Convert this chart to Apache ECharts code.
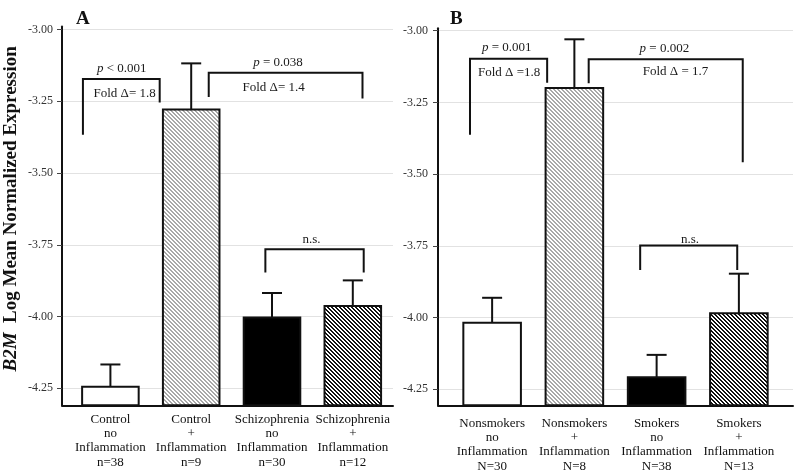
<!DOCTYPE html>
<html><head><meta charset="utf-8">
<script src="https://cdn.jsdelivr.net/npm/echarts@6/dist/echarts.min.js"></script>
<style>html,body{margin:0;padding:0;background:#fff}#c{width:800px;height:475px}</style>
</head><body><div id="c"></div>
<script>
// ---------- data ----------
const categoriesA = ['Control\nno\nInflammation\nn=38', 'Control\n+\nInflammation\nn=9', 'Schizophrenia\nno\nInflammation\nn=30', 'Schizophrenia\n+\nInflammation\nn=12'];
const meansA = [-4.245, -3.279, -4.003, -3.963];
const errA = [0.078, 0.161, 0.085, 0.089];

const categoriesB = ['Nonsmokers\nno\nInflammation\nN=30', 'Nonsmokers\n+\nInflammation\nN=8', 'Smokers\nno\nInflammation\nN=38', 'Smokers\n+\nInflammation\nN=13'];
const meansB = [-4.018, -3.200, -4.208, -3.985];
const errB = [0.087, 0.170, 0.078, 0.138];

const yTicks = [-4.25, -4.00, -3.75, -3.50, -3.25, -3.00];
const panelLabels = ['A', 'B'];
const yTitleItalic = 'B2M';
const yTitle = 'Log Mean Normalized Expression';

// significance brackets: [fromCat, toCat, topValue, leftEndValue, rightEndValue]
const bracketsA = [[-0.34, 0.61, -3.1725, -3.367, -3.254], [1.217, 3.12, -3.1505, -3.235, -3.240], [1.918, 3.135, -3.766, -3.847, -3.847]];
const bracketsB = [[-0.269, 0.669, -3.0976, -3.3625, -3.181], [1.174, 3.047, -3.0997, -3.1833, -3.4587], [1.80, 2.98, -3.749, -3.834, -3.834]];
// annotation texts: [cat, value, text]
const notesA = [[0.141, -3.135, '{i|p} < 0.001'], [0.176, -3.222, 'Fold \u0394= 1.8'], [2.075, -3.116, '{i|p} = 0.038'], [2.02, -3.203, 'Fold \u0394= 1.4'], [2.49, -3.733, 'n.s.']];
const notesB = [[0.178, -3.059, '{i|p} = 0.001'], [0.206, -3.145, 'Fold \u0394 =1.8'], [2.094, -3.061, '{i|p} = 0.002'], [2.23, -3.143, 'Fold \u0394 = 1.7'], [2.406, -3.727, 'n.s.']];

// ---------- layout / style ----------
const F = '"Liberation Serif", "Times New Roman", serif';
const geo = {
  A: {frame: {left: 62, top: 29.5, width: 331, height: 358.8}, bars: {left: 70, top: 26.5, width: 323.2, height: 378.8}},
  B: {frame: {left: 438, top: 30.7, width: 355, height: 358.6}, bars: {left: 451, top: 28.3, width: 329, height: 377}}
};
const yLo = yTicks[0], yHi = yTicks[yTicks.length - 1];
function barsExtent(g) {
  const s = g.frame.height / (yHi - yLo);
  return {
    max: yHi + (g.frame.top - g.bars.top) / s,
    min: yLo - ((g.bars.top + g.bars.height) - (g.frame.top + g.frame.height)) / s
  };
}
function hatch(n, on, color) {
  const c = document.createElement('canvas'); c.width = n; c.height = n;
  const ctx = c.getContext('2d');
  ctx.fillStyle = '#fff'; ctx.fillRect(0, 0, n, n);
  ctx.fillStyle = color;
  for (let y = 0; y < n; y++) for (let x = 0; x < n; x++) {
    if ((((x - y) % n) + n) % n < on) ctx.fillRect(x, y, 1, 1);
  }
  return c;
}
const fills = ['#ffffff', {image: hatch(4, 2, '#a8a8a8'), repeat: 'repeat'}, '#000000', {image: hatch(4, 2, '#111111'), repeat: 'repeat'}];

function barRender(yMin) {
  return function (params, api) {
    const i = api.value(0);
    const band = api.size([1, 0])[0];
    const w = band * 0.7;
    const top = api.coord([i, api.value(1)]);
    const base = api.coord([i, yMin]);
    const et = api.coord([i, api.value(2)]);
    const cx = top[0];
    return {
      type: 'group',
      children: [
        {type: 'line', shape: {x1: cx, y1: top[1], x2: cx, y2: et[1]}, style: {stroke: '#111', lineWidth: 2}},
        {type: 'line', shape: {x1: cx - 10, y1: et[1], x2: cx + 10, y2: et[1]}, style: {stroke: '#111', lineWidth: 2}},
        {type: 'rect', shape: {x: cx - w / 2, y: top[1], width: w, height: base[1] - top[1]},
         style: {fill: fills[params.dataIndex % fills.length], stroke: '#111', lineWidth: 2}}
      ]
    };
  };
}
function bracketRender(params, api) {
  const band = api.size([1, 0])[0];
  const c0 = api.coord([0, api.value(2)]);
  const x1 = c0[0] + api.value(0) * band;
  const x2 = c0[0] + api.value(1) * band;
  const yT = c0[1];
  const y1 = api.coord([0, api.value(3)])[1];
  const y2 = api.coord([0, api.value(4)])[1];
  return {type: 'polyline', shape: {points: [[x1, y1], [x1, yT], [x2, yT], [x2, y2]]},
          style: {stroke: '#111', lineWidth: 2, fill: null}};
}
function noteRender(notes) {
  return function (params, api) {
    const band = api.size([1, 0])[0];
    const c0 = api.coord([0, api.value(1)]);
    return {type: 'text', style: {
      text: notes[params.dataIndex][2], x: c0[0] + api.value(0) * band, y: c0[1],
      align: 'center', verticalAlign: 'middle', fontFamily: F, fontSize: 13, fill: '#1a1a1a',
      rich: {i: {fontStyle: 'italic', fontFamily: F, fontSize: 13, fill: '#1a1a1a'}}
    }};
  };
}

const extA = barsExtent(geo.A), extB = barsExtent(geo.B);
function frameY(gi, margin, withName) {
  const ax = {
    gridIndex: gi, type: 'value', min: yLo, max: yHi, interval: 0.25,
    axisLine: {show: false}, axisTick: {show: true, length: 5, lineStyle: {color: '#444', width: 1}},
    axisLabel: {formatter: v => v.toFixed(2), margin: margin, fontFamily: F, fontSize: 12, color: '#333'},
    splitLine: {show: true, lineStyle: {color: '#e2e2e2', width: 1}}
  };
  if (withName) {
    Object.assign(ax, {
      name: '{i|' + yTitleItalic + '}  {b|' + yTitle + '}', nameLocation: 'middle', nameRotate: 90, nameGap: 41,
      nameTextStyle: {fontFamily: F, fontSize: 19, fontWeight: 'bold', color: '#111',
        rich: {i: {fontFamily: F, fontSize: 19, fontWeight: 'bold', fontStyle: 'italic', color: '#111'},
               b: {fontFamily: F, fontSize: 19, fontWeight: 'bold', color: '#111'}}}
    });
  }
  return ax;
}
function barsY(gi, ext, offset) {
  return {gridIndex: gi, type: 'value', min: ext.min, max: ext.max, offset: offset,
    axisLine: {show: true, onZero: false, lineStyle: {color: '#111', width: 2}},
    axisTick: {show: false}, axisLabel: {show: false}, splitLine: {show: false}};
}
function frameX(gi, offset) {
  return {gridIndex: gi, type: 'value', min: 0, max: 1, offset: offset, position: 'bottom',
    axisLine: {show: true, onZero: false, lineStyle: {color: '#111', width: 2}},
    axisTick: {show: false}, axisLabel: {show: false}, splitLine: {show: false}};
}
function barsX(gi, cats, margin) {
  return {gridIndex: gi, type: 'category', data: cats, boundaryGap: true,
    axisLine: {show: false, onZero: false}, axisTick: {show: false}, splitLine: {show: false},
    axisLabel: {interval: 0, margin: margin, fontFamily: F, fontSize: 13, lineHeight: 14.3, color: '#111'}};
}
function grid(g) { return Object.assign({outerBoundsMode: 'none', containLabel: false}, g); }

const option = {
  animation: false,
  backgroundColor: '#ffffff',
  title: [
    {text: panelLabels[0], left: 71, top: 5, textStyle: {fontFamily: F, fontSize: 19, fontWeight: 'bold', color: '#111'}},
    {text: panelLabels[1], left: 445, top: 5, textStyle: {fontFamily: F, fontSize: 19, fontWeight: 'bold', color: '#111'}}
  ],
  grid: [grid(geo.A.frame), grid(geo.A.bars), grid(geo.B.frame), grid(geo.B.bars)],
  xAxis: [
    frameX(0, (geo.A.bars.top + geo.A.bars.height) - (geo.A.frame.top + geo.A.frame.height)),
    barsX(1, categoriesA, 7),
    frameX(2, (geo.B.bars.top + geo.B.bars.height) - (geo.B.frame.top + geo.B.frame.height)),
    barsX(3, categoriesB, 11)
  ],
  yAxis: [
    frameY(0, 9, true),
    barsY(1, extA, geo.A.bars.left - geo.A.frame.left),
    frameY(2, 10, false),
    barsY(3, extB, geo.B.bars.left - geo.B.frame.left)
  ],
  series: [
    {type: 'custom', xAxisIndex: 1, yAxisIndex: 1, renderItem: barRender(extA.min),
     data: meansA.map((m, i) => [i, m, m + errA[i]])},
    {type: 'custom', xAxisIndex: 1, yAxisIndex: 1, renderItem: bracketRender, data: bracketsA},
    {type: 'custom', xAxisIndex: 1, yAxisIndex: 1, renderItem: noteRender(notesA), data: notesA.map(n => [n[0], n[1]])},
    {type: 'custom', xAxisIndex: 3, yAxisIndex: 3, renderItem: barRender(extB.min),
     data: meansB.map((m, i) => [i, m, m + errB[i]])},
    {type: 'custom', xAxisIndex: 3, yAxisIndex: 3, renderItem: bracketRender, data: bracketsB},
    {type: 'custom', xAxisIndex: 3, yAxisIndex: 3, renderItem: noteRender(notesB), data: notesB.map(n => [n[0], n[1]])}
  ]
};
const chart = echarts.init(document.getElementById('c'), null, {renderer: 'canvas'});
chart.setOption(option);
</script>
</body></html>
